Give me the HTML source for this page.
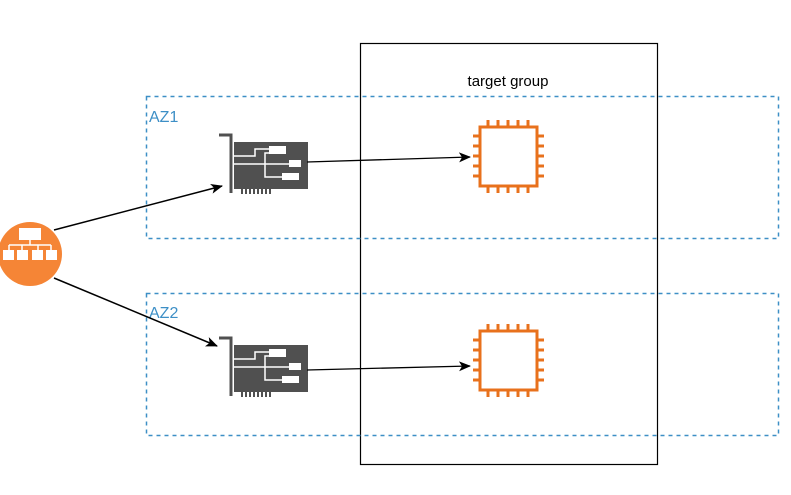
<!DOCTYPE html>
<html><head><style>body{margin:0;background:#fff}svg{display:block}</style></head><body>
<svg width="791" height="495" viewBox="0 0 791 495" xmlns="http://www.w3.org/2000/svg" font-family="Liberation Sans, sans-serif">
<defs>
<marker id="ah" markerWidth="12" markerHeight="10" refX="11" refY="5" orient="auto" markerUnits="userSpaceOnUse">
<path d="M0,0 L12,5 L0,10 L3,5 Z" fill="#000"/></marker>
<g id="nic">
<path d="M0,0 H12 V58" fill="none" stroke="#505050" stroke-width="3"/>
<rect x="15" y="7" width="74" height="47" fill="#505050"/>
<g fill="#505050"><rect x="22" y="54" width="2" height="5"/><rect x="26" y="54" width="2" height="5"/><rect x="30" y="54" width="2" height="5"/><rect x="34" y="54" width="2" height="5"/><rect x="38" y="54" width="2" height="5"/><rect x="42" y="54" width="2" height="5"/><rect x="46" y="54" width="2" height="5"/><rect x="50" y="54" width="2" height="5"/></g>
<path d="M15,29 H46 V42 H63 M46,29 V18 H50 M15,21 H36 V14 H50 M46,29 H72" fill="none" stroke="#fff" stroke-width="1.5"/>
<rect x="50" y="11" width="17" height="8" fill="#fff"/>
<rect x="70" y="25" width="12" height="7" fill="#fff"/>
<rect x="63" y="38" width="17" height="7" fill="#fff"/>
</g>
<g id="cpu" fill="none" stroke="#e8711c" stroke-width="3">
<rect x="0" y="0" width="57" height="59"/>
<path d="M8,0 V-7 M18,0 V-7 M28,0 V-7 M38,0 V-7 M48,0 V-7 M8,59 V66 M18,59 V66 M28,59 V66 M38,59 V66 M48,59 V66 M0,9 H-7 M0,19 H-7 M0,29 H-7 M0,39 H-7 M0,49 H-7 M57,9 H64 M57,19 H64 M57,29 H64 M57,39 H64 M57,49 H64"/>
</g>
</defs>
<rect x="360.5" y="43.5" width="297" height="421" fill="none" stroke="#000" stroke-width="1.2"/>
<text x="508" y="86" font-size="15" text-anchor="middle" fill="#000">target group</text>
<rect x="146.5" y="96.5" width="632" height="142" fill="none" stroke="#3d8fc6" stroke-width="1.5" stroke-dasharray="4,4"/>
<rect x="146.5" y="293.5" width="632" height="142" fill="none" stroke="#3d8fc6" stroke-width="1.5" stroke-dasharray="4,4"/>
<text x="149" y="122" font-size="16" fill="#3d8fc6">AZ1</text>
<text x="149" y="318" font-size="16" fill="#3d8fc6">AZ2</text>
<use href="#nic" x="219" y="135"/>
<use href="#nic" x="219" y="338"/>
<use href="#cpu" x="480" y="127"/>
<use href="#cpu" x="480" y="331"/>
<line x1="307" y1="162" x2="470" y2="157" stroke="#000" stroke-width="1.3" marker-end="url(#ah)"/>
<line x1="307" y1="370" x2="470" y2="366" stroke="#000" stroke-width="1.3" marker-end="url(#ah)"/>
<line x1="54" y1="230" x2="222" y2="186" stroke="#000" stroke-width="1.5" marker-end="url(#ah)"/>
<line x1="54" y1="278" x2="217" y2="346" stroke="#000" stroke-width="1.5" marker-end="url(#ah)"/>
<circle cx="30" cy="254" r="32" fill="#f58536"/>
<g fill="#fff" stroke="#fff">
<rect x="19" y="228" width="22" height="12" stroke="none"/>
<path d="M30,240 V245 M9,245 H51 M9,245 V250 M22,245 V250 M38,245 V250 M51,245 V250" fill="none" stroke-width="1.5"/>
<rect x="3" y="250" width="11" height="10" stroke="none"/>
<rect x="17" y="250" width="11" height="10" stroke="none"/>
<rect x="32" y="250" width="11" height="10" stroke="none"/>
<rect x="46" y="250" width="11" height="10" stroke="none"/>
</g>
</svg>
</body></html>
